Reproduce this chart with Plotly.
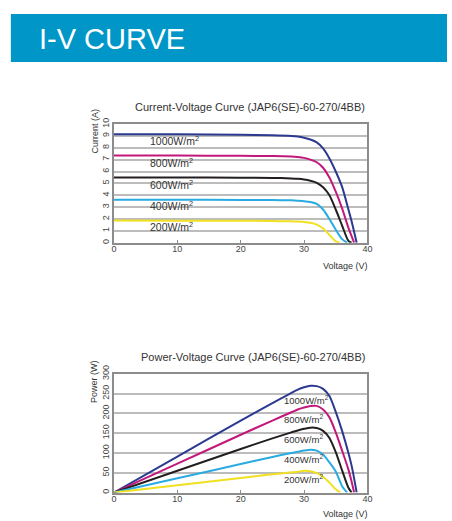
import plotly.graph_objects as go

W, H = 452, 521

# ---------------- data ----------------
irradiance_labels = ["1000W/m<sup>2</sup>", "800W/m<sup>2</sup>", "600W/m<sup>2</sup>",
                     "400W/m<sup>2</sup>", "200W/m<sup>2</sup>"]
line_colors = ["#2b3990", "#c2187b", "#231f20", "#29abe2", "#f0e020"]

# I-V curves (voltage V, current A)
iv_v_1000 = [0, 10, 20, 25, 28, 29, 30, 31, 32, 33, 34, 35, 36, 37, 37.5, 38, 38.3]
iv_i_1000 = [9.15, 9.13, 9.10, 9.06, 9.0, 8.95, 8.85, 8.7, 8.45, 7.95, 7.1, 6.0, 4.7, 2.8, 1.8, 0.7, 0]
iv_v_800 = [0, 10, 20, 25, 28, 29, 30, 31, 32, 33, 34, 35, 36, 37, 37.5, 37.9]
iv_i_800 = [7.36, 7.34, 7.32, 7.3, 7.26, 7.22, 7.15, 7.0, 6.78, 6.32, 5.5, 4.3, 2.9, 1.25, 0.55, 0]
iv_v_600 = [0, 10, 20, 25, 28, 29, 30, 31, 32, 33, 34, 35, 36, 37, 37.5]
iv_i_600 = [5.5, 5.49, 5.48, 5.46, 5.42, 5.39, 5.33, 5.22, 5.05, 4.68, 4.0, 2.8, 1.45, 0.15, 0]
iv_v_400 = [0, 10, 20, 25, 28, 29, 30, 31, 32, 33, 34, 35, 36, 36.8]
iv_i_400 = [3.63, 3.62, 3.61, 3.6, 3.57, 3.54, 3.5, 3.43, 3.27, 2.8, 2.0, 1.1, 0.3, 0]
iv_v_200 = [0, 10, 20, 25, 28, 29, 30, 31, 32, 33, 34, 35, 35.6]
iv_i_200 = [1.87, 1.86, 1.85, 1.83, 1.8, 1.78, 1.75, 1.68, 1.53, 1.2, 0.65, 0.12, 0]

# P-V curves (voltage V, power W)
pv_v_1000 = [0, 10, 20, 25, 28, 29, 30, 31, 32, 33, 34, 35, 36, 37, 37.5, 38, 38.3]
pv_p_1000 = [0, 91, 182, 226, 252, 260, 266, 270, 269, 262, 244, 204, 156, 100, 68, 27, 0]
pv_v_800 = [0, 10, 20, 25, 28, 29, 30, 31, 32, 33, 34, 35, 36, 37, 37.5, 37.9]
pv_p_800 = [0, 73, 146, 182, 203, 210, 215, 219, 219, 210, 190, 152, 106, 58, 28, 0]
pv_v_600 = [0, 10, 20, 25, 28, 29, 30, 31, 32, 33, 34, 35, 36, 37, 37.5]
pv_p_600 = [0, 55, 110, 137, 152, 157, 161, 164, 163, 156, 138, 102, 56, 12, 0]
pv_v_400 = [0, 10, 20, 25, 28, 29, 30, 31, 32, 33, 34, 35, 36, 36.8]
pv_p_400 = [0, 36, 72, 90, 100, 103, 106, 108, 106, 96, 76, 53, 16, 0]
pv_v_200 = [0, 10, 20, 25, 28, 29, 30, 31, 32, 33, 34, 35, 35.7]
pv_p_200 = [0, 18.5, 37, 46, 51, 52.5, 55, 54, 49, 40, 25, 8, 0]

# label anchor positions (data coords)
iv_label_v = [5.3, 5.3, 5.3, 5.3, 5.3]
iv_label_i = [8.6, 6.75, 4.9, 3.1, 1.37]
pv_label_v = [26.5, 26.5, 26.5, 26.5, 26.5]
pv_label_p = [233, 186, 135, 86, 33]

x_ticks = [0, 10, 20, 30, 40]
iv_y_ticks = list(range(0, 11))
pv_y_ticks = [0, 50, 100, 150, 200, 250, 300]

iv_title = "Current-Voltage Curve (JAP6(SE)-60-270/4BB)"
pv_title = "Power-Voltage Curve (JAP6(SE)-60-270/4BB)"
banner_text = "I-V CURVE"

# ---------------- layout helpers ----------------
def px_x(x):
    return x / W

def px_y(y):
    return 1 - y / H

FONT = "Liberation Sans, Arial, sans-serif"
TXT = "#333333"

fig = go.Figure()

iv_sets = [(iv_v_1000, iv_i_1000), (iv_v_800, iv_i_800), (iv_v_600, iv_i_600),
           (iv_v_400, iv_i_400), (iv_v_200, iv_i_200)]
pv_sets = [(pv_v_1000, pv_p_1000), (pv_v_800, pv_p_800), (pv_v_600, pv_p_600),
           (pv_v_400, pv_p_400), (pv_v_200, pv_p_200)]

for (v, i), c in zip(iv_sets, line_colors):
    fig.add_trace(go.Scatter(x=v, y=i, mode="lines", line=dict(color=c, width=2, shape="spline", smoothing=0.7),
                             xaxis="x", yaxis="y", showlegend=False, hoverinfo="skip"))
for (v, p), c in zip(pv_sets, line_colors):
    fig.add_trace(go.Scatter(x=v, y=p, mode="lines", line=dict(color=c, width=2, shape="spline", smoothing=0.7),
                             xaxis="x2", yaxis="y2", showlegend=False, hoverinfo="skip"))

axis_common = dict(showline=True, linecolor="#8c8c8c", linewidth=1.5, mirror=True,
                   zeroline=False, tickfont=dict(family=FONT, size=9, color="#444"))

xdom = [px_x(113), px_x(371)]
fig.update_layout(
    width=W, height=H,
    margin=dict(l=0, r=0, t=0, b=0),
    paper_bgcolor="white", plot_bgcolor="white",
    xaxis=dict(domain=xdom, range=[0, 40], tickvals=x_ticks, ticks="inside", ticklen=3,
               tickcolor="#8c8c8c", showgrid=False, anchor="y", ticklabelstandoff=-3,
               **axis_common),
    yaxis=dict(domain=[px_y(238.3), px_y(117.3)], range=[0, 10], tickvals=iv_y_ticks,
               tickangle=-90, ticks="", showgrid=True, gridcolor="#bcbcbc", gridwidth=2,
               anchor="x", **axis_common),
    xaxis2=dict(domain=xdom, range=[0, 40], tickvals=x_ticks, ticks="inside", ticklen=3,
                tickcolor="#8c8c8c", showgrid=False, anchor="y2", ticklabelstandoff=-3,
                **axis_common),
    yaxis2=dict(domain=[px_y(493), px_y(372)], range=[0, 300], tickvals=pv_y_ticks,
                tickangle=-90, ticks="", showgrid=True, gridcolor="#bcbcbc", gridwidth=2,
                anchor="x2", **axis_common),
)

# banner
fig.add_shape(type="rect", xref="paper", yref="paper", x0=px_x(8), x1=1.0,
              y0=px_y(54), y1=px_y(5), fillcolor="#0097c8", line=dict(width=0), layer="below")

annotations = [
    dict(text=banner_text, x=px_x(35), y=px_y(31), xref="paper", yref="paper",
         xanchor="left", yanchor="middle", showarrow=False,
         font=dict(family=FONT, size=29, color="white")),
    dict(text=iv_title, x=px_x(371), y=px_y(100), xref="paper", yref="paper",
         xanchor="right", yanchor="middle", showarrow=False,
         font=dict(family=FONT, size=11, color=TXT)),
    dict(text=pv_title, x=px_x(371), y=px_y(355), xref="paper", yref="paper",
         xanchor="right", yanchor="middle", showarrow=False,
         font=dict(family=FONT, size=11, color=TXT)),
    dict(text="Current (A)", x=px_x(94), y=px_y(124.5), xref="paper", yref="paper",
         xanchor="center", yanchor="middle", textangle=-90, showarrow=False,
         font=dict(family=FONT, size=9, color=TXT)),
    dict(text="Power (W)", x=px_x(92), y=px_y(380), xref="paper", yref="paper",
         xanchor="center", yanchor="middle", textangle=-90, showarrow=False,
         font=dict(family=FONT, size=9, color=TXT)),
    dict(text="Voltage (V)", x=px_x(374), y=px_y(262), xref="paper", yref="paper",
         xanchor="right", yanchor="middle", showarrow=False,
         font=dict(family=FONT, size=9, color=TXT)),
    dict(text="Voltage (V)", x=px_x(374), y=px_y(515), xref="paper", yref="paper",
         xanchor="right", yanchor="middle", showarrow=False,
         font=dict(family=FONT, size=9, color=TXT)),
]
for lab, v, i in zip(irradiance_labels, iv_label_v, iv_label_i):
    annotations.append(dict(text=lab, x=v, y=i, xref="x", yref="y", xanchor="left",
                            yanchor="middle", showarrow=False,
                            font=dict(family=FONT, size=10.5, color=TXT)))
for lab, v, p in zip(irradiance_labels, pv_label_v, pv_label_p):
    annotations.append(dict(text=lab, x=v, y=p, xref="x2", yref="y2", xanchor="left",
                            yanchor="middle", showarrow=False,
                            font=dict(family=FONT, size=9.5, color=TXT)))
fig.update_layout(annotations=annotations)

fig.write_html("out.html", config={"displayModeBar": False},
               post_script="document.body.style.margin='0px';")
